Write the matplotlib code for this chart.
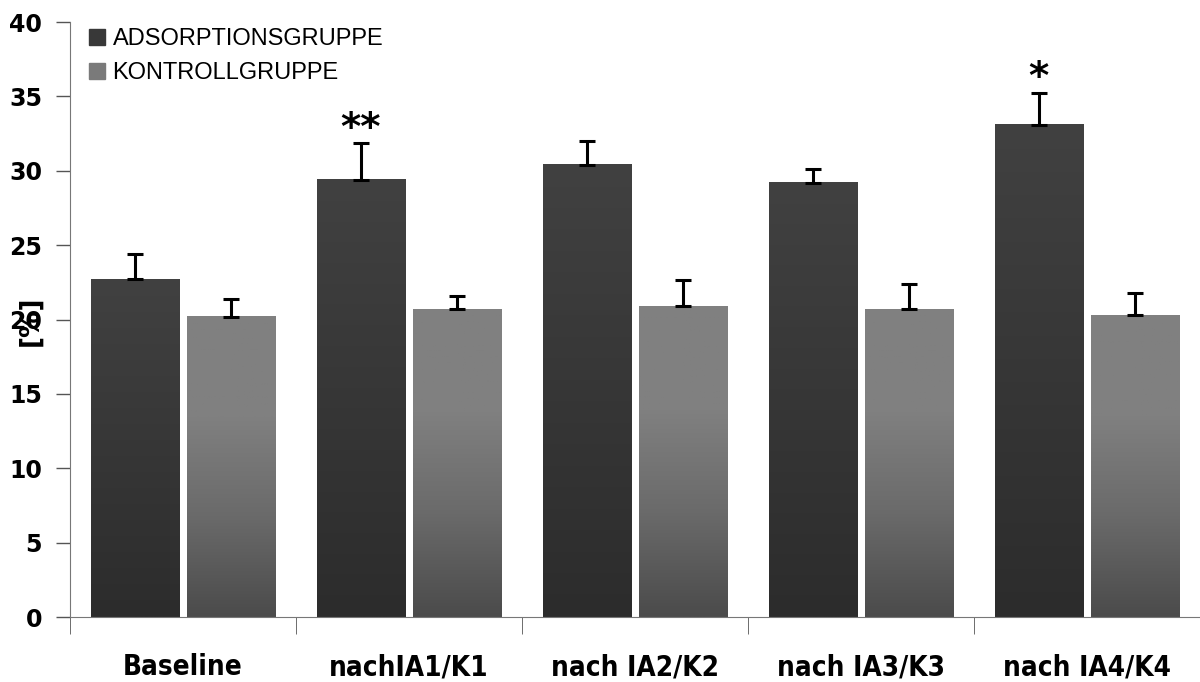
# Balkendiagramm Adsorptionsgruppe vs. Kontrollgruppe
import numpy as np
import matplotlib.pyplot as plt
from matplotlib.colors import LinearSegmentedColormap
from matplotlib.patches import Patch

# Daten
kategorien = ['Baseline', 'nachIA1/K1', 'nach IA2/K2', 'nach IA3/K3', 'nach IA4/K4']
adsorption = [22.7, 29.4, 30.4, 29.2, 33.1]
adsorption_err = [1.7, 2.45, 1.6, 0.95, 2.15]
kontrolle = [20.2, 20.7, 20.9, 20.7, 20.3]
kontrolle_err = [1.2, 0.85, 1.75, 1.7, 1.5]
sterne = ['', '**', '', '', '*']

fig = plt.figure(figsize=(12, 6.82), dpi=100)
ax = fig.add_axes([0.0583, 0.0953, 0.9417, 0.8724])

x = np.arange(len(kategorien))
breite = 0.39
versatz = 0.214

cm_dunkel = LinearSegmentedColormap.from_list('d', ['#2c2c2c', '#414141'])
cm_hell = LinearSegmentedColormap.from_list('h', ['#4b4b4b', '#6a6a6a', '#808080', '#808080'])
grad = np.linspace(0, 1, 256).reshape(-1, 1)

bars1 = ax.bar(x - versatz, adsorption, breite, color='#3a3a3a', zorder=2)
bars2 = ax.bar(x + versatz, kontrolle, breite, color='#707070', zorder=2)

# Farbverlauf in den Balken
for bars, cmap in [(bars1, cm_dunkel), (bars2, cm_hell)]:
    for b in bars:
        x0, y0 = b.get_x(), b.get_y()
        w, h = b.get_width(), b.get_height()
        b.set_facecolor('none')
        ax.imshow(grad, cmap=cmap, aspect='auto', origin='lower',
                  extent=(x0, x0 + w, y0, y0 + h), zorder=2)

# Fehlerbalken nur nach oben
ax.errorbar(x - versatz, adsorption, yerr=[np.zeros(5), adsorption_err], fmt='none',
            ecolor='black', elinewidth=2.2, capsize=5.5, capthick=2.2, zorder=3)
ax.errorbar(x + versatz, kontrolle, yerr=[np.zeros(5), kontrolle_err], fmt='none',
            ecolor='black', elinewidth=2.2, capsize=5.5, capthick=2.2, zorder=3)

for i, s in enumerate(sterne):
    if s:
        ax.text(x[i] - versatz, adsorption[i] + adsorption_err[i] - 0.3, s,
                ha='center', va='bottom', fontsize=28, fontweight='bold')

ax.set_xlim(-0.5, 4.5)
ax.set_ylim(0, 40)
ax.set_yticks(np.arange(0, 41, 5))
ax.set_yticklabels([str(v) for v in range(0, 41, 5)], fontsize=17, fontweight='bold')
ax.tick_params(axis='y', direction='out', length=10, width=1, color='#555555', pad=10)

ax.set_xticks(x)
ax.set_xticklabels(kategorien, fontsize=20, fontweight='bold', fontstretch='condensed')
ax.set_xticks(np.arange(-0.5, 5, 1), minor=True)
ax.tick_params(axis='x', which='major', length=0, pad=26)
ax.tick_params(axis='x', which='minor', direction='out', length=12, color='#555555')

for sp in ['top', 'right']:
    ax.spines[sp].set_visible(False)
ax.spines['left'].set_color('#777777')
ax.spines['bottom'].set_color('#777777')

fig.text(0.025, 0.53, '[%]', rotation=90, ha='center', va='center',
         fontsize=19, fontweight='bold')

# Legende
ax.legend(handles=[Patch(color='#383838', label='ADSORPTIONSGRUPPE'),
                   Patch(color='#7a7a7a', label='KONTROLLGRUPPE')],
          loc='upper left', bbox_to_anchor=(-0.002, 1.025), frameon=False,
          prop={'family': 'Liberation Sans', 'size': 17},
          handlelength=0.7, handleheight=0.7, handletextpad=0.3, labelspacing=0.5)

plt.savefig('out.png', dpi=100)
